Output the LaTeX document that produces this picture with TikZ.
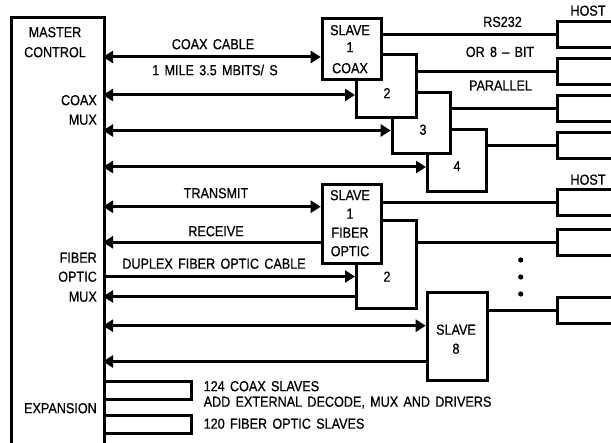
\documentclass[tikz,border=0pt]{standalone}
\usepackage{fontspec}
\setmainfont{Liberation Sans}[FakeStretch=0.87, WordSpace=1.5, FakeBold=0.6]
\usetikzlibrary{arrows.meta}
\begin{document}
\begin{tikzpicture}[x=1pt,y=-1pt,
  ln/.style={line width=3pt},
  box/.style={draw, line width=3pt, fill=white, rectangle, anchor=north west, inner sep=0pt},
  lbl/.style={inner sep=0pt, text height=10.4pt, text depth=0pt, font=\fontsize{14.5}{16}\selectfont},
  rtip/.style={-{Triangle[length=10pt,width=12pt]}},
  ltip/.style={{Triangle[length=10pt,width=12pt]}-},
  btip/.style={{Triangle[length=10pt,width=12pt]}-{Triangle[length=10pt,width=12pt]}}]
\path[use as bounding box, clip] (0,0) rectangle (611,443);
% master
\node[box, minimum width=93pt, minimum height=460pt] (master) at (10,16) {};
\node[lbl] (tmaster) at (55,32) {MASTER};
\node[lbl] (tcontrol) at (55,52) {CONTROL};
\node[lbl, anchor=east] (tcoax) at (97,100) {COAX};
\node[lbl, anchor=east] (tmux) at (97,119.5) {MUX};
\node[lbl, anchor=east] (tfiber) at (97,257.5) {FIBER};
\node[lbl, anchor=east] (toptic) at (97,276.5) {OPTIC};
\node[lbl, anchor=east] (tmux2) at (97,296.5) {MUX};
\node[lbl, anchor=east] (texp) at (97,408) {EXPANSION};
% coax slaves (back to front)
\node[box, minimum width=59pt, minimum height=62.3pt] (b4) at (426,127.7) {};
\node[box, minimum width=58.3pt, minimum height=60.7pt] (b3) at (390.7,91) {};
\node[box, minimum width=60pt, minimum height=62.7pt] (b2) at (355,53.3) {};
\node[box, minimum width=59.3pt, minimum height=61.6pt] (s1) at (320.7,16.7) {};
\node[lbl] (ts1a) at (350,30) {SLAVE};
\node[lbl] (ts1b) at (350,47) {1};
\node[lbl] (ts1c) at (350,68) {COAX};
\node[lbl] (tb2) at (387,93) {2};
\node[lbl] (tb3) at (423,129.5) {3};
\node[lbl] (tb4) at (457,166) {4};
% fiber slaves
\node[box, minimum width=60pt, minimum height=87.4pt] (f2) at (355,219.3) {};
\node[box, minimum width=59.3pt, minimum height=79pt] (f1) at (320.7,182.7) {};
\node[box, minimum width=60.3pt, minimum height=88.3pt] (f8) at (425.7,290.7) {};
\node[lbl] (tf1a) at (350,195) {SLAVE};
\node[lbl] (tf1b) at (350,213.5) {1};
\node[lbl] (tf1c) at (350,232.5) {FIBER};
\node[lbl] (tf1d) at (350,251) {OPTIC};
\node[lbl] (tf2) at (387,276.5) {2};
\node[lbl] (tf8a) at (456,329.5) {SLAVE};
\node[lbl] (tf8b) at (456,348.5) {8};
% left side coordinates
\coordinate (m1) at (103,57);
\coordinate (m2) at (103,95);
\coordinate (m3) at (103,130.5);
\coordinate (m4) at (103,167);
\coordinate (m5) at (103,206.7);
\coordinate (m6) at (103,242.3);
\coordinate (m7) at (103,276.5);
\coordinate (m8) at (103,296.5);
\coordinate (m9) at (103,325.7);
\coordinate (m10) at (103,361.5);
\draw[ln, btip] (m1) -- (m1 -| s1.west);
\draw[ln, btip] (m2) -- (m2 -| b2.west);
\draw[ln, btip] (m3) -- (m3 -| b3.west);
\draw[ln, btip] (m4) -- (m4 -| b4.west);
\draw[ln, btip] (m5) -- (m5 -| f1.west);
\draw[ln, ltip] (m6) -- (m6 -| f1.west);
\draw[ln, rtip] (m7) -- (m7 -| f2.west);
\draw[ln, ltip] (m8) -- (m8 -| f2.west);
\draw[ln, btip] (m9) -- (m9 -| f8.west);
\draw[ln, ltip] (m10) -- (m10 -| f8.west);
\node[lbl] (tcable) at (213,44) {COAX CABLE};
\node[lbl] (tmile) at (215,70) {1 MILE 3.5 MBITS/ S};
\node[lbl] (ttx) at (216,193) {TRANSMIT};
\node[lbl] (trx) at (216,231) {RECEIVE};
\node[lbl] (tduplex) at (214,263.5) {DUPLEX FIBER OPTIC CABLE};
% host connectors
\coordinate (h1) at (557,34.3);
\coordinate (h2) at (557,71.2);
\coordinate (h3) at (557,108.5);
\coordinate (h4) at (557,145.7);
\coordinate (h5) at (557,202.3);
\coordinate (h6) at (557,242.5);
\coordinate (h7) at (557,310.5);
\foreach \h/\b in {h1/s1,h2/b2,h3/b3,h4/b4,h5/f1,h6/f2,h7/f8}{
  \draw[ln] (\h -| \b.east) -- (\h);
  \draw[ln] ([shift={(56,-13)}]\h) -- ([shift={(0,-13)}]\h) -- ([shift={(0,13)}]\h) -- ([shift={(56,13)}]\h);
}
\node[lbl] (thost1) at (588,10.5) {HOST};
\node[lbl] (thost2) at (588,179.5) {HOST};
\node[lbl] (trs) at (502.5,21.7) {RS232};
\node[lbl] (tor) at (500,51.7) {OR 8 -- BIT};
\node[lbl] (tpar) at (500.5,85.3) {PARALLEL};
% dots
\fill (520.7,260) circle (2.6pt);
\fill (520.7,277) circle (2.6pt);
\fill (520.7,294) circle (2.6pt);
% expansion
\coordinate (e1) at (103,381.7);
\coordinate (e2) at (103,399.3);
\coordinate (e3) at (103,415.7);
\coordinate (e4) at (103,433.3);
\draw[ln] (e1) -- ++(88,0) |- (e2);
\draw[ln] (e3) -- ++(88,0) |- (e4);
\node[lbl, anchor=west] (tx1) at (203.5,386) {124 COAX SLAVES};
\node[lbl, anchor=west] (tx2) at (203.5,401.5) {ADD EXTERNAL DECODE, MUX AND DRIVERS};
\node[lbl, anchor=west] (tx3) at (203.5,423.5) {120 FIBER OPTIC SLAVES};
\end{tikzpicture}
\end{document}
